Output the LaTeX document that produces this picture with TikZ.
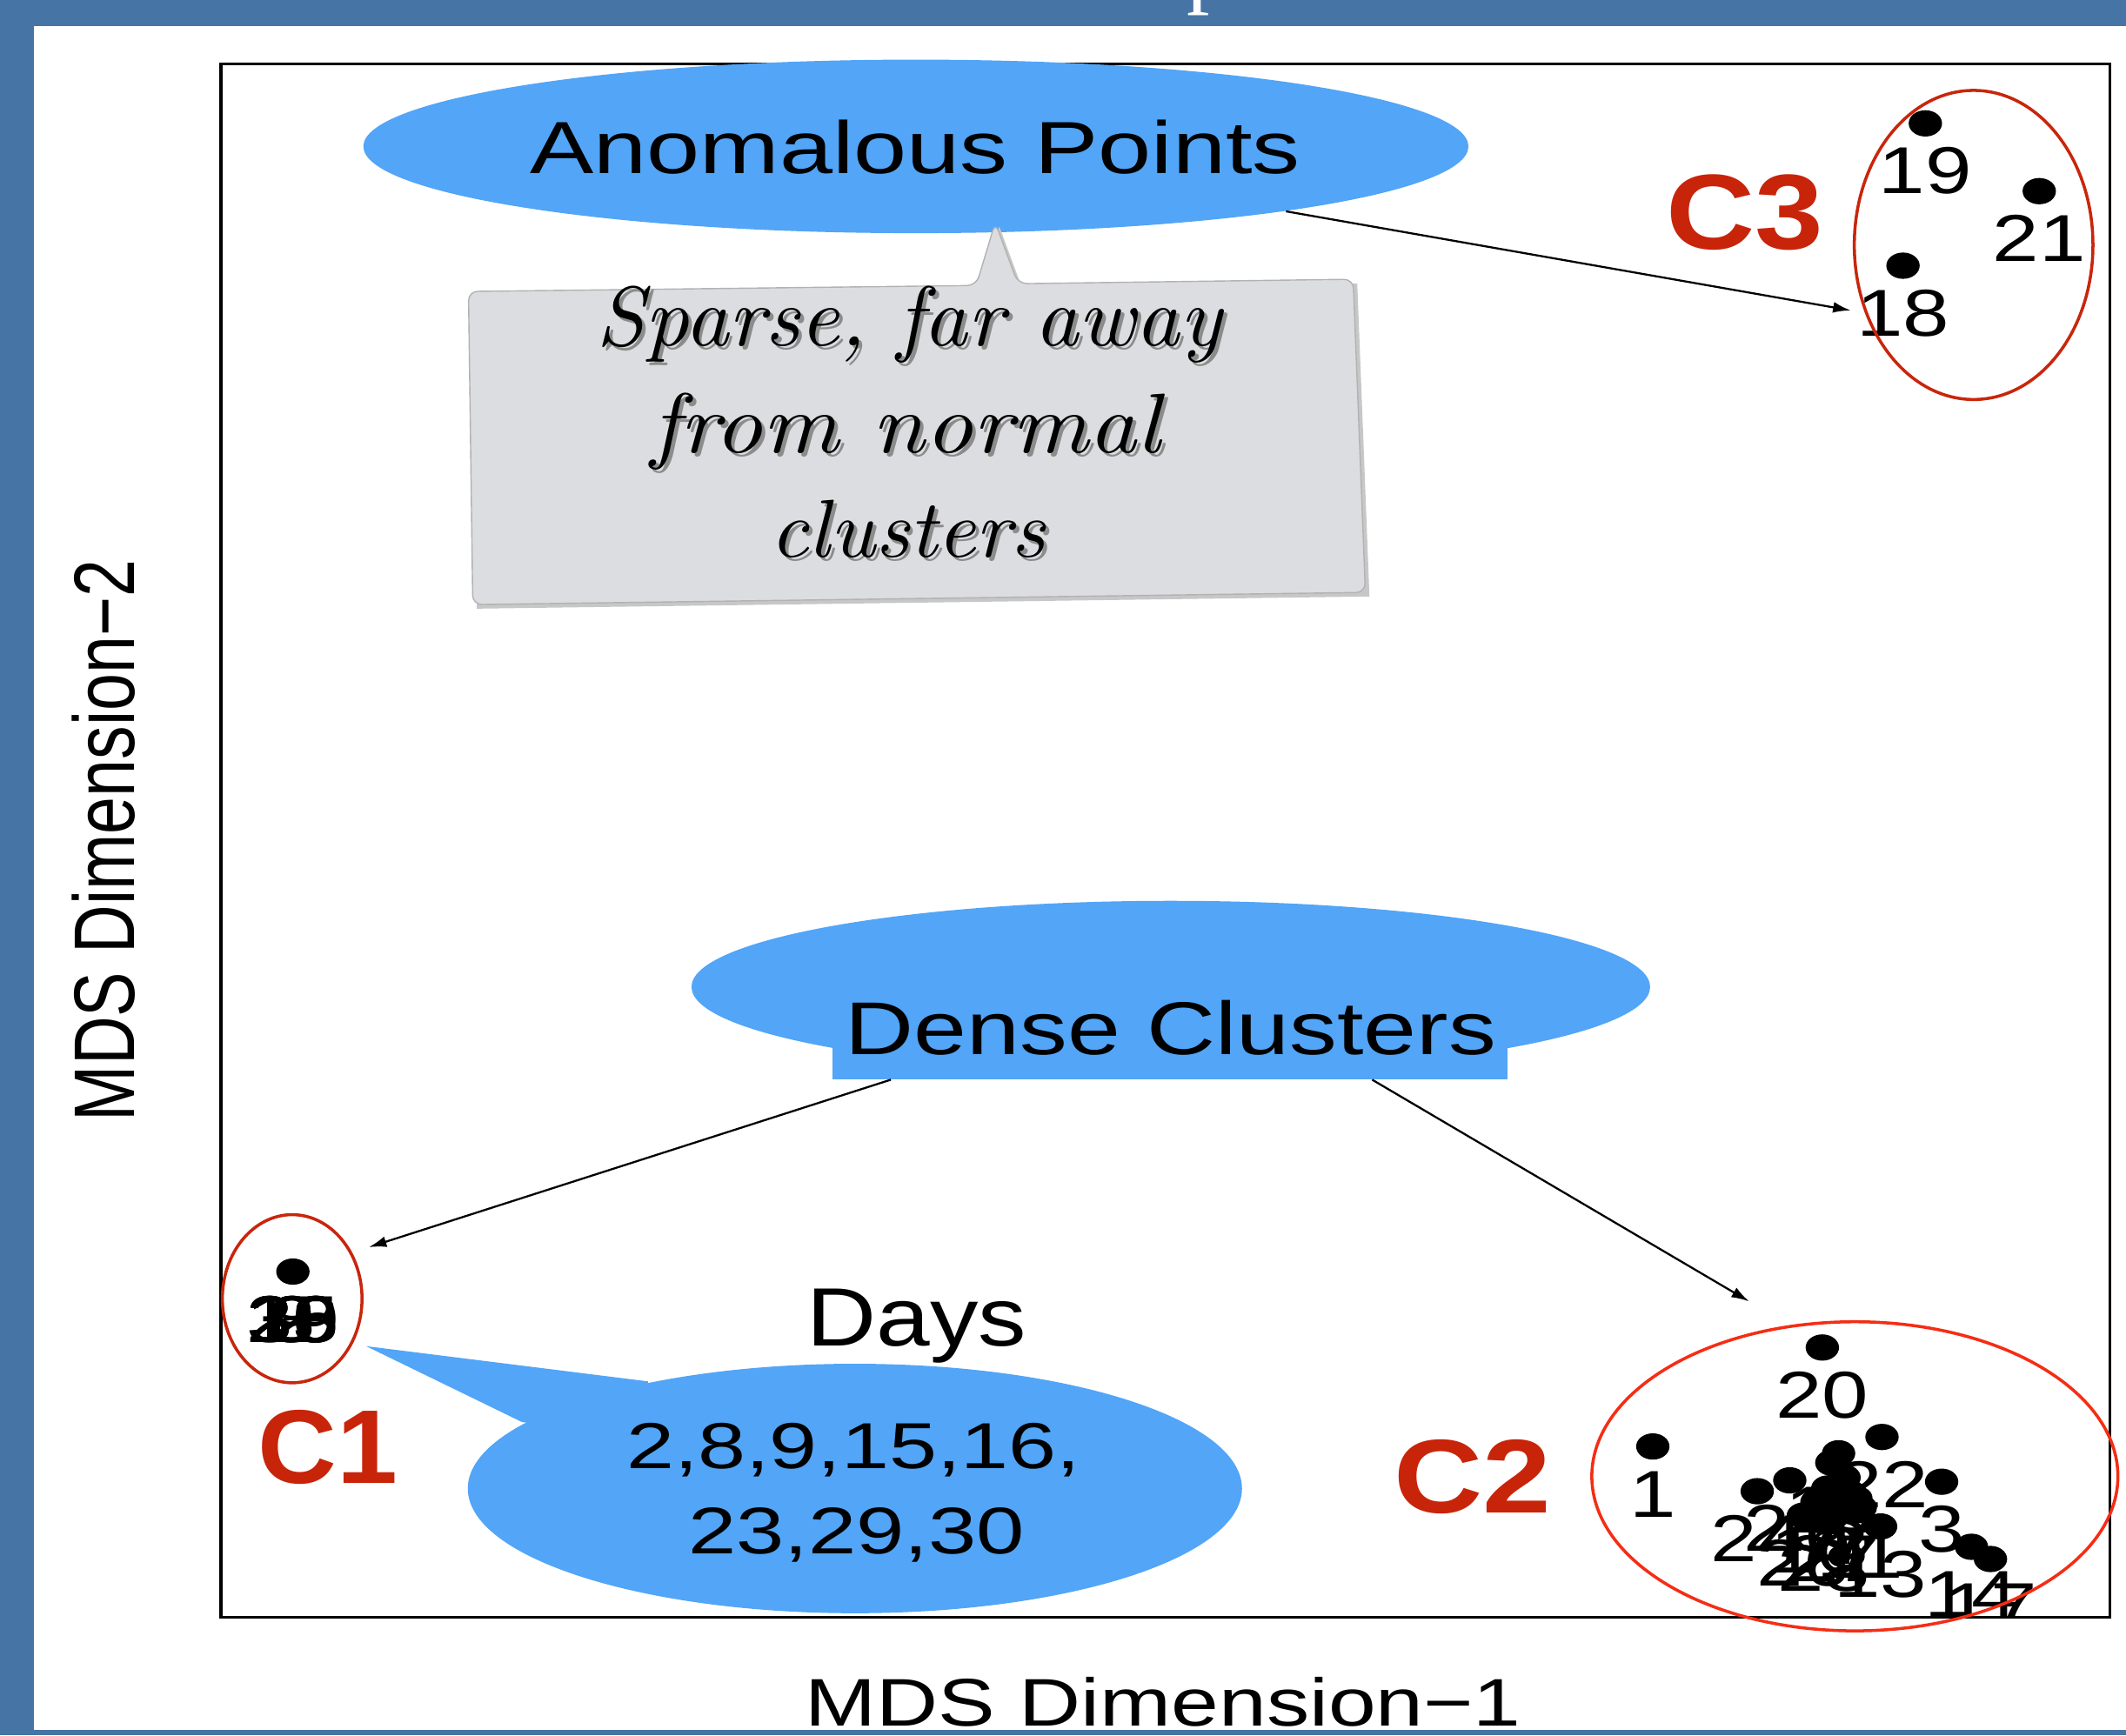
\documentclass[tikz,border=0pt]{standalone}
\usepackage{fontspec}
\usepackage{graphicx}
\setsansfont{Liberation Sans}
\newfontfamily\titlefont{Liberation Serif}
\usetikzlibrary{shapes.geometric,arrows.meta,calc}
\newlength\pxu
\setlength\pxu{0.4435pt}
\definecolor{bandblue}{RGB}{70,116,165}
\definecolor{bubble}{RGB}{82,165,247}
\definecolor{callgray}{RGB}{220,221,224}
\definecolor{ringred}{RGB}{200,38,12}
\definecolor{ringbright}{RGB}{245,45,20}
\definecolor{labred}{RGB}{200,36,10}
\newcommand\ptlab[1]{\scalebox{1.26}[1]{\fontsize{21.7pt}{22pt}\selectfont\sffamily #1}}
\newcommand\fitsans[3]{\resizebox{#1\pxu}{#2\pxu}{\sffamily #3}}
\newcommand\fitbold[3]{\resizebox{#1\pxu}{#2\pxu}{\sffamily\bfseries #3}}
\newcommand\fitital[3]{\resizebox{#1\pxu}{#2\pxu}{\itshape #3}}
\tikzset{
  txt/.style={anchor=base, inner sep=0pt, outer sep=0pt},
  ptlbl/.style={anchor=base, inner sep=0pt},
  arr/.style={line width=0.65pt, -{Latex[length=5.8pt,width=3.6pt]}},
  ring/.style={ellipse, draw=ringred, line width=1pt, inner sep=0pt},
  blob/.style={ellipse, fill=bubble, inner sep=0pt},
}
\begin{document}
\begin{tikzpicture}[x=0.4435pt,y=-0.4435pt]
\useasboundingbox (0,0) rectangle (1568,1280);
\fill[white] (0,0) rectangle (1568,1280);

% plot frame
\draw[line width=0.9pt] (163,47) rectangle (1556,1193);

% axis labels
\node[txt] (xlab) at (858,1273.5) {\fitsans{528}{36}{MDS Dimension−1}};
\node[txt, rotate=90] (ylab) at (99,620) {\fitsans{414}{46}{MDS Dimension−2}};

% points and labels, clipped to the plot region
\begin{scope}
\clip (163,47) rectangle (1556,1193);
% C3
\foreach \px/\py/\t in {1420/91/19, 1504/141/21, 1403.5/196/18}{
  \fill (\px,\py) ellipse [x radius=12.3, y radius=9.7];
  \node[ptlbl] (p\t) at (\px,\py+52) {\ptlab{\t}};
}
% C1
\fill (216,938) ellipse [x radius=12.3, y radius=9.7];
\foreach \t in {2,8,9,15,16,23,29,30}{
  \node[ptlbl] (p\t) at (216,990) {\ptlab{\t}};
}
% C2
\foreach \px/\py/\t in {1344/994/20, 1219/1067/1, 1388/1060/22, 1432/1093/3,
  1454/1141/14, 1468/1150/17, 1296/1100/24, 1320/1092/25, 1351/1079/12,
  1356/1072/4, 1360/1090/5, 1348/1098/6, 1365/1102/7, 1340/1108/10,
  1372/1112/11, 1330/1118/26, 1352/1115/27, 1345/1122/28, 1387/1126/13}{
  \fill (\px,\py) ellipse [x radius=12.3, y radius=9.7];
}
\foreach \px/\py/\t in {1344/994/20, 1219/1067/1, 1388/1060/22, 1432/1093/3,
  1454/1141/14, 1468/1150/17, 1296/1100/24, 1320/1092/25, 1351/1079/12,
  1356/1072/4, 1360/1090/5, 1348/1098/6, 1365/1102/7, 1340/1108/10,
  1372/1112/11, 1330/1118/26, 1352/1115/27, 1345/1122/28, 1387/1126/13}{
  \node[ptlbl] (p\t) at (\px,\py+52) {\ptlab{\t}};
}
\end{scope}

% Anomalous Points bubble
\node[blob, minimum width=815*\pxu, minimum height=128*\pxu] (anom) at (675.5,108) {};
\node[txt] (anomtxt) at (675,127.7) {\fitsans{568}{39.5}{Anomalous Points}};

% gray callout
\fill[black!22] (348.5,218) -- (723,213.6) -- (737,167) -- (753.7,212.3) -- (1001,209) -- (1010,440) -- (351.7,449) -- cycle;
\fill[callgray, draw=black!30, line width=0.4pt, rounded corners=3pt]
  (345.5,215) -- (720,210.6) -- (734,164) -- (750.7,209.3) -- (998,206) -- (1007,437) -- (348.7,446) -- cycle;
\node[txt, text=black!45] (sp1s) at (673,257.5) {\fitital{461}{44}{Sparse, far away}};
\node[txt, text=black!45] (sp2s) at (670.5,336.5) {\fitital{376}{44}{from normal}};
\node[txt, text=black!45] (sp3s) at (672,413.5) {\fitital{203}{42}{clusters}};
\node[txt] (sp1) at (670.5,255) {\fitital{461}{44}{Sparse, far away}};
\node[txt] (sp2) at (668,334) {\fitital{376}{44}{from normal}};
\node[txt] (sp3) at (669.5,411) {\fitital{203}{42}{clusters}};

% Dense Clusters bubble
\node[blob, minimum width=707*\pxu, minimum height=127*\pxu] (denseell) at (863.5,728) {};
\node[fill=bubble, inner sep=0pt, minimum width=498*\pxu, minimum height=74*\pxu] (dense) at (863,759) {};
\node[txt] (densetxt) at (863.5,778) {\fitsans{480}{40}{Dense Clusters}};

% Days bubble
\node[blob, minimum width=571*\pxu, minimum height=184*\pxu] (days) at (630.5,1098) {};
\fill[bubble] (270,993) -- (478,1019) -- (470,1060) -- (385,1049) -- cycle;
\node[txt] (daystitle) at (676,993) {\fitsans{162}{42}{Days}};
\node[txt] (dayl1) at (629.5,1083) {\fitsans{335}{33.5}{2,8,9,15,16,}};
\node[txt] (dayl2) at (631.5,1146.3) {\fitsans{248}{34}{23,29,30}};

% cluster rings
\node[ring, minimum width=103*\pxu, minimum height=124*\pxu] (c1ring) at (215.5,958) {};
\node[ring, draw=ringbright, minimum width=388*\pxu, minimum height=228*\pxu] (c2ring) at (1368,1089) {};
\node[ring, minimum width=176*\pxu, minimum height=228*\pxu] (c3ring) at (1455.6,180.7) {};

% cluster names
\node[txt, text=labred] (c1name) at (242,1094) {\fitbold{103}{54}{C1}};
\node[txt, text=labred] (c2name) at (1086,1116) {\fitbold{116}{54}{C2}};
\node[txt, text=labred] (c3name) at (1287,184) {\fitbold{116}{55}{C3}};

% connectors
\coordinate (c3tip) at (1365,229);
\coordinate (c1tip) at (272,920);
\coordinate (c2tip) at (1290,960);
\draw[arr] (anom) -- (c3tip);
\draw[arr] ($(dense.south)+(-206,0)$) -- (c1tip);
\draw[arr] ($(dense.south)+(149,0)$) -- (c2tip);

% slide frame bands
\fill[bandblue] (0,0) rectangle (1568,19);
\fill[bandblue] (0,0) rectangle (25,1280);
\fill[bandblue] (0,1276) rectangle (1568,1280);
\begin{scope}
\clip (0,0) rectangle (1568,19);
\node[text=white, anchor=base west, inner sep=0pt, font={\titlefont\fontsize{30pt}{30pt}\selectfont}] (titlep) at (875,-2.7) {p};
\end{scope}
\end{tikzpicture}
\end{document}
